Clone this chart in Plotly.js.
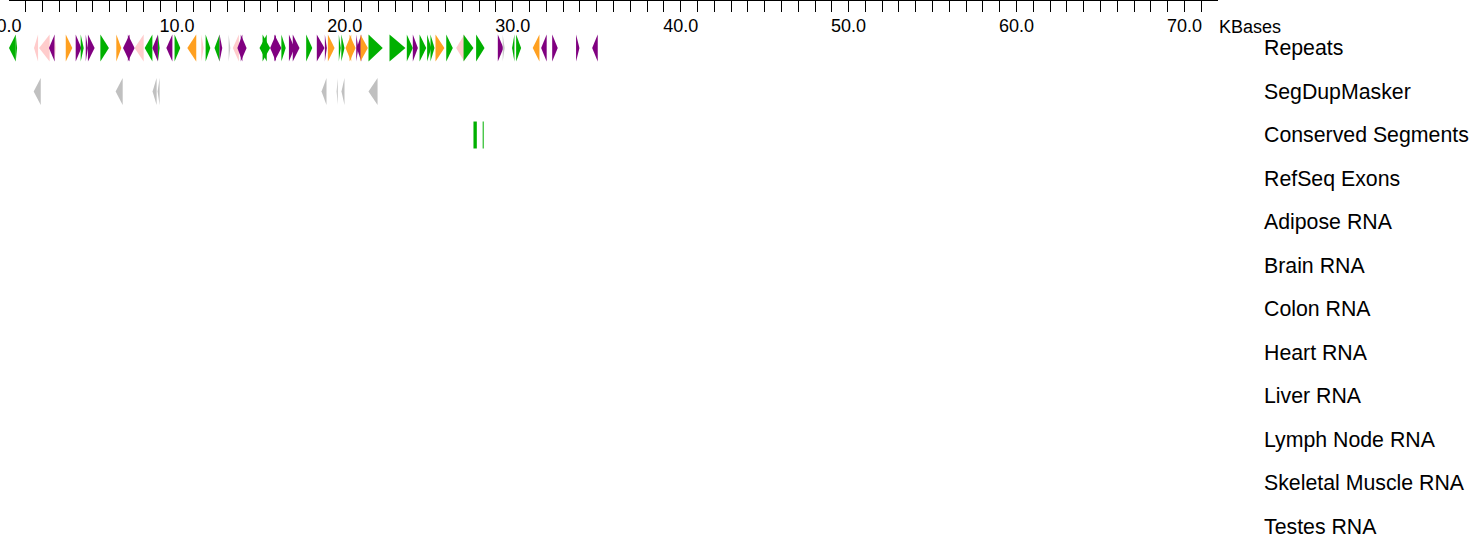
<!DOCTYPE html>
<html>
<head>
<meta charset="utf-8">
<script src="https://cdn.plot.ly/plotly-3.0.1.min.js"></script>
<style>html,body{margin:0;padding:0;background:#fff;}#chart{width:1481px;height:540px;}</style>
</head>
<body>
<div id="chart"></div>
<script>
// ---- Data ----
const trackNames = ["Repeats", "SegDupMasker", "Conserved Segments", "RefSeq Exons",
  "Adipose RNA", "Brain RNA", "Colon RNA", "Heart RNA", "Liver RNA",
  "Lymph Node RNA", "Skeletal Muscle RNA", "Testes RNA"];

// Repeats track (kb), strand and class
const repStart = [0.00,0.40,1.49,1.79,2.38,2.72,3.38,3.97,4.27,4.57,4.70,5.44,6.39,6.79,7.08,7.48,8.08,8.54,8.87,
  9.37,9.86,10.62,11.45,11.71,12.24,12.54,13.08,13.33,13.60,13.80,14.92,15.10,15.55,15.80,16.22,16.67,16.90,17.70,
  18.33,18.81,18.99,19.64,19.79,20.04,20.28,20.68,20.71,20.93,21.41,22.66,23.69,24.05,24.45,24.90,25.10,25.40,26.04,
  26.63,27.07,27.82,29.11,29.40,29.96,30.20,31.19,31.69,32.35,33.77,34.73];
const repEnd = [0.40,0.48,1.73,2.42,2.72,2.78,3.77,4.31,4.45,4.70,5.10,5.95,6.69,7.18,7.48,8.02,8.54,8.87,8.97,
  9.73,10.20,11.15,11.59,11.99,12.54,12.70,13.18,13.69,13.90,14.15,15.35,15.55,15.90,16.22,16.48,17.00,17.30,18.06,
  18.79,18.93,19.39,19.76,19.98,20.38,20.64,20.80,20.98,21.37,22.26,23.61,24.05,24.35,24.85,25.15,25.34,25.93,26.43,
  27.12,27.66,28.32,29.45,29.52,30.10,30.50,31.59,32.02,32.68,33.97,35.06];
const repStrand = ["-","+","-","-","-","+","+","+","+","+","+","+","+","-","+","-","-","-","+",
  "-","+","-","+","+","-","+","+","-","-","+","-","+","-","+","+","+","+","+",
  "+","+","+","+","+","-","+","+","-","+","+","+","+","+","+","+","+","+","+",
  "-","+","+","+","+","-","+","-","-","+","+","-"];
const repClass = ["green","green","pink","pink","purple","pink","orange","purple","green","purple","purple","green","orange","purple","purple","pink","green","purple","green",
  "purple","green","orange","pink","green","green","purple","grey","pink","purple","purple","green","green","purple","purple","green","purple","purple","green",
  "purple","purple","orange","green","green","orange","orange","purple","purple","orange","green","green","green","purple","green","green","green","orange","green",
  "pink","green","green","purple","grey","green","green","orange","purple","purple","purple","purple"];

// SegDupMasker track (kb)
const segStart = [1.47,6.35,8.55,8.85,18.61,19.51,19.80,21.41];
const segEnd   = [1.89,6.77,8.79,8.97,18.91,19.58,19.98,21.95];
const segStrand = ["-","-","-","-","-","-","-","-"];

// Conserved Segments (kb)
const consStart = [27.66,28.21];
const consEnd   = [27.86,28.27];

// Axis
const axisMaxKb = 72;
const tickLabelEvery = 10;

// ---- Styles ----
const classColors = {green:"rgb(0,176,0)", purple:"rgb(128,0,128)", orange:"rgb(255,160,32)",
  pink:"rgb(255,204,204)", grey:"rgb(200,200,200)"};
const segColor = "rgb(192,192,192)";
const consColor = "rgb(0,176,0)";
const HALF = 0.31;
const FONT = "Liberation Sans, Arial, Helvetica, sans-serif";

function polyTrace(xs, ys, color) {
  return {x: xs, y: ys, mode: "lines", fill: "toself", fillcolor: color,
    line: {width: 0, color: color}, hoverinfo: "skip", showlegend: false};
}
function arrowTrace(s, e, strand, row, color) {
  const xs = strand === "+" ? [s, e, s, s] : [e, s, e, e];
  const ys = [row - HALF, row, row + HALF, row - HALF];
  return polyTrace(xs, ys, color);
}

const traces = [];
repStart.forEach((s, i) => traces.push(arrowTrace(s, repEnd[i], repStrand[i], 0, classColors[repClass[i]])));
segStart.forEach((s, i) => traces.push(arrowTrace(s, segEnd[i], segStrand[i], 1, segColor)));
consStart.forEach((s, i) => traces.push(polyTrace(
  [s, consEnd[i], consEnd[i], s, s], [2 - HALF, 2 - HALF, 2 + HALF, 2 + HALF, 2 - HALF], consColor)));

const tickvals = [], ticktext = [];
for (let k = 0; k <= axisMaxKb; k++) {
  tickvals.push(k);
  ticktext.push(k % tickLabelEvery === 0 ? k.toFixed(1) : "");
}

const annotations = trackNames.map((n, i) => ({
  text: n, xref: "paper", x: (1262 - 9) / 1209, xanchor: "left",
  yref: "y", y: i, yanchor: "middle", showarrow: false,
  font: {family: FONT, size: 21.3, color: "#000"}
}));
annotations.push({text: "KBases", xref: "paper", x: (1217 - 9) / 1209, xanchor: "left",
  yref: "y", y: -0.49, yanchor: "middle", showarrow: false,
  font: {family: FONT, size: 18, color: "#000"}});

const layout = {
  width: 1481, height: 540,
  margin: {l: 9, r: 263, t: 1, b: 0, pad: 0},
  paper_bgcolor: "#fff", plot_bgcolor: "#fff",
  showlegend: false,
  font: {family: FONT, color: "#000"},
  xaxis: {
    side: "top", range: [0, axisMaxKb], tickmode: "array", tickvals, ticktext,
    ticks: "inside", ticklen: 11, tickwidth: 1, tickcolor: "#000",
    showline: true, linecolor: "#000", linewidth: 1,
    ticklabelposition: "inside", ticklabeloverflow: "allow", ticklabelstandoff: 8,
    tickfont: {family: FONT, size: 18, color: "#000"},
    showgrid: false, zeroline: false, fixedrange: true
  },
  yaxis: {range: [11.31, -1.0805], visible: false, showgrid: false, zeroline: false, fixedrange: true},
  annotations
};

Plotly.newPlot("chart", traces, layout, {displayModeBar: false, staticPlot: true});
</script>
</body>
</html>
